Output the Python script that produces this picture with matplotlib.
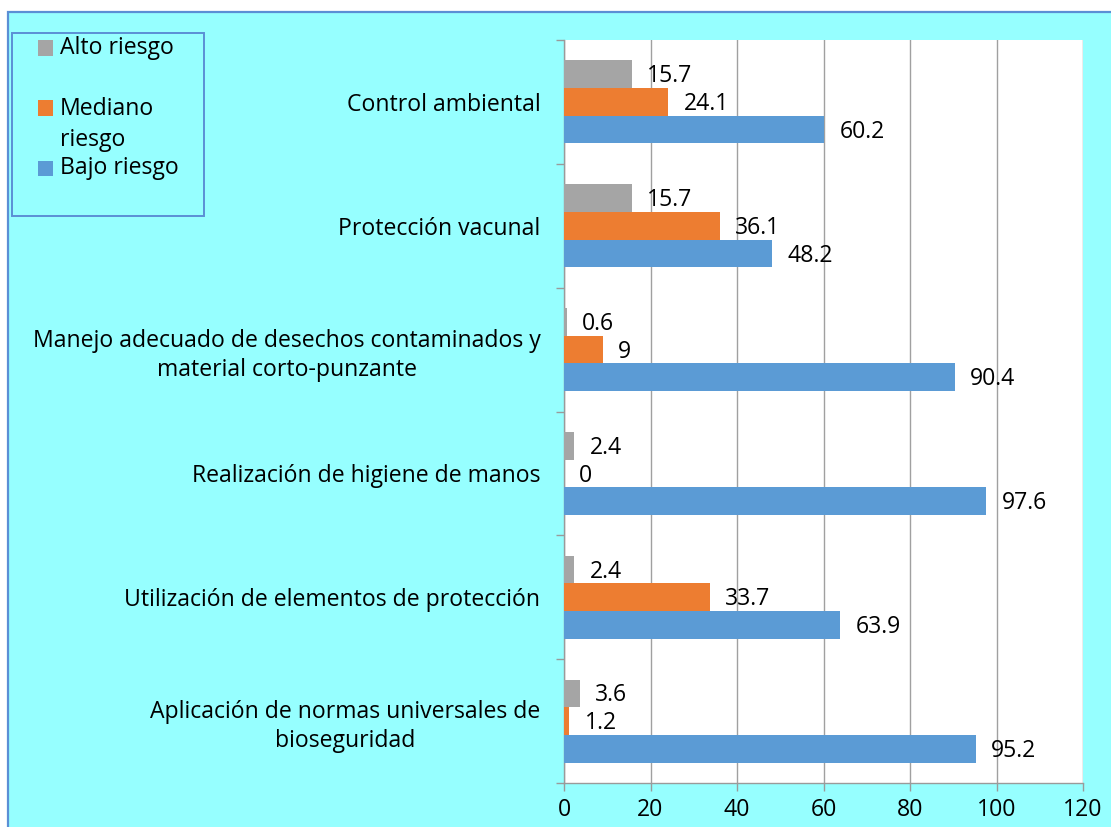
import matplotlib
matplotlib.use("Agg")
import matplotlib.pyplot as plt
from matplotlib.patches import Rectangle
import numpy as np

plt.rcParams['font.family'] = ['Open Sans', 'DejaVu Sans']

# ---- data (top to bottom as in the chart) ----
categories = [
    "Control ambiental",
    "Protección vacunal",
    "Manejo adecuado de desechos contaminados y\nmaterial corto-punzante",
    "Realización de higiene de manos",
    "Utilización de elementos de protección",
    "Aplicación de normas universales de\nbioseguridad",
]
alto = [15.7, 15.7, 0.6, 2.4, 2.4, 3.6]
mediano = [24.1, 36.1, 9, 0, 33.7, 1.2]
bajo = [60.2, 48.2, 90.4, 97.6, 63.9, 95.2]
series_names = ["Alto riesgo", "Mediano\nriesgo", "Bajo riesgo"]
xticks = [0, 20, 40, 60, 80, 100, 120]

C_GRAY = "#A5A5A5"
C_ORANGE = "#ED7D31"
C_BLUE = "#5B9BD5"
C_CYAN = "#96FFFF"
C_BORDER = "#5B8FD5"
FS = 16.6

W, H = 1111, 827
fig = plt.figure(figsize=(W / 100, H / 100), dpi=100)
fig.patch.set_facecolor("white")

def fx(px):
    return px / W

def fy(py):
    return 1 - py / H

# cyan chart panel
fig.add_artist(Rectangle((fx(8), -0.05), 1.2, fy(12) + 0.05, transform=fig.transFigure,
                         facecolor=C_CYAN, edgecolor=C_BORDER, linewidth=1.6, zorder=0))

ax = fig.add_axes([fx(564), fy(783), fx(1083) - fx(564), fy(40) - fy(783)])
ax.set_facecolor("white")

n = len(categories)
pos = np.arange(n)[::-1]  # categories[0] -> top
bh = 0.2236
centers = pos + 0.5

ax.barh(centers + bh, alto, height=bh, color=C_GRAY, zorder=3)
ax.barh(centers, mediano, height=bh, color=C_ORANGE, zorder=3)
ax.barh(centers - bh, bajo, height=bh, color=C_BLUE, zorder=3)

for vals, off in ((alto, bh), (mediano, 0), (bajo, -bh)):
    for y, v in zip(centers + off, vals):
        ax.annotate(f"{v:g}", xy=(v, y), xytext=(11.0, -1.5), textcoords="offset points",
                    ha="left", va="center", fontsize=FS, color="black", zorder=4)

ax.set_xlim(0, 120)
ax.set_ylim(0, n)
ax.set_xticks(xticks)
ax.set_xticklabels([str(t) for t in xticks], fontsize=FS)
ax.tick_params(axis="x", length=5.5, width=1, color="#9A9A9A", pad=5.5)

ax.set_yticks(np.arange(n + 1))
ax.set_yticklabels([])
ax.tick_params(axis="y", which="major", length=6, width=1, color="#9A9A9A")
ax.set_yticks(centers, minor=True)
ax.set_yticklabels(categories, minor=True, fontsize=FS)
ax.tick_params(axis="y", which="minor", length=0, pad=17)
for t in ax.get_yticklabels(minor=True):
    t.set_multialignment("center")
    t.set_linespacing(1.3)

ax.grid(axis="x", color="#A0A0A0", linewidth=1.0, zorder=1)
ax.set_axisbelow(True)
for s in ("top", "right"):
    ax.spines[s].set_visible(False)
for s in ("left", "bottom"):
    ax.spines[s].set_color("#9A9A9A")
    ax.spines[s].set_linewidth(1.0)

# legend box (manual, matching Excel layout)
fig.add_artist(Rectangle((fx(12), fy(216)), fx(204) - fx(12), fy(33) - fy(216),
                         transform=fig.transFigure, facecolor="none",
                         edgecolor=C_BORDER, linewidth=1.4, zorder=5))
leg_colors = [C_GRAY, C_ORANGE, C_BLUE]
marker_y = [48, 108, 168]
text_y = [48, 124.5, 168]
for name, c, my, ty in zip(series_names, leg_colors, marker_y, text_y):
    fig.add_artist(Rectangle((fx(38), fy(my + 7.5)), fx(15), 15 / H,
                             transform=fig.transFigure, facecolor=c, edgecolor="none", zorder=6))
    fig.text(fx(60), fy(ty), name, ha="left", va="center", fontsize=FS,
             linespacing=1.4, zorder=6)

fig.savefig("out.png", dpi=100)
